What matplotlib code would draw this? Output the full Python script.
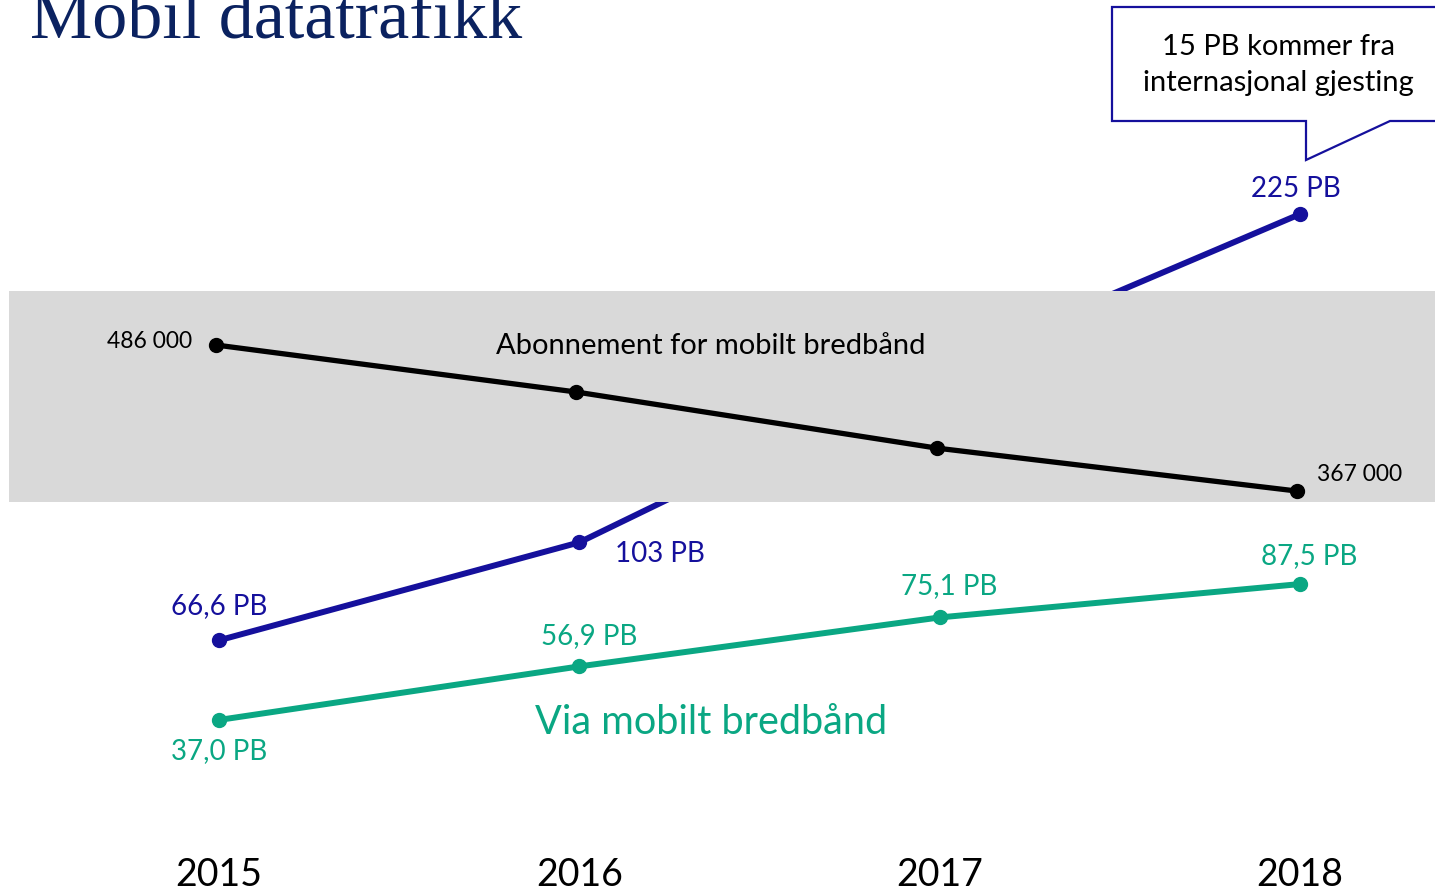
import matplotlib.pyplot as plt
import matplotlib.patches as patches

W, H = 1435, 894

years = [2015, 2016, 2017, 2018]
total_pb = [66.6, 103, 168, 225]          # 2017 value sits behind the grey band
mbb_pb = [37.0, 56.9, 75.1, 87.5]
subs_k = [486, 447.7, 402, 367]           # abonnement, thousands

total_labels = ['66,6 PB', '103 PB', None, '225 PB']
mbb_labels = ['37,0 PB', '56,9 PB', '75,1 PB', '87,5 PB']
subs_labels = ['486 000', None, None, '367 000']

BLUE = '#15109c'
GREEN = '#0aa783'
NAVY = '#0b2260'
FONT = 'Lato'


def fpx(x, y):
    # pixel position -> figure fraction
    return x / W, 1 - y / H


fig = plt.figure(figsize=(W / 100, H / 100), dpi=100)
ax = fig.add_axes([0, 0, 1, 1])
ax.set_xlim(2014.392, 2018.375)
ax.set_ylim(-27.7, 304.6)
ax.axis('off')

ax2 = ax.twinx()
ax2.set_position([0, 0, 1, 1])
ax2.set_ylim(38.6, 767.2)
ax2.axis('off')

# grey band behind subscriber line, covering the blue line
x0, y0 = fpx(9, 502)
x1, y1 = fpx(1435, 291)
ax2.add_patch(patches.Rectangle((x0, y0), x1 - x0, y1 - y0, transform=fig.transFigure,
                                facecolor='#d9d9d9', edgecolor='none', zorder=0))

ax.plot(years, total_pb, color=BLUE, lw=4.3, marker='o', ms=10, zorder=2)
ax.plot(years, mbb_pb, color=GREEN, lw=4.3, marker='o', ms=10, zorder=2)
ax2.plot([y - 0.008 for y in years], subs_k, color='black', lw=3.8, marker='o', ms=10, zorder=3)

blue_offsets = [(0, 34), (81, -12), None, (-4, 25)]
for yr, v, lab, off in zip(years, total_pb, total_labels, blue_offsets):
    if lab:
        ax.annotate(lab, (yr, v), xytext=off, textcoords='offset pixels', ha='center',
                    va='center', color=BLUE, fontsize=20, family=FONT)

green_offsets = [(0, -31), (10, 30), (10, 31), (9, 28)]
for yr, v, lab, off in zip(years, mbb_pb, mbb_labels, green_offsets):
    ax.annotate(lab, (yr, v), xytext=off, textcoords='offset pixels', ha='center',
                va='center', color=GREEN, fontsize=20, family=FONT)

ax2.annotate(subs_labels[0], (years[0] - 0.008, subs_k[0]), xytext=(-24, 4),
             textcoords='offset pixels', ha='right', va='center', fontsize=16.5, family=FONT, zorder=4)
ax2.annotate(subs_labels[3], (years[3] - 0.008, subs_k[3]), xytext=(20, 17),
             textcoords='offset pixels', ha='left', va='center', fontsize=16.5, family=FONT, zorder=4)

fig.text(*fpx(711, 346), 'Abonnement for mobilt bredbånd', ha='center', va='center',
         fontsize=21, family=FONT, zorder=5)
fig.text(*fpx(711, 722), 'Via mobilt bredbånd', ha='center', va='center',
         fontsize=28.5, family=FONT, color=GREEN)

for yr in years:
    ax.annotate(str(yr), (yr, 0), xytext=(0, -875 + 819.5), textcoords='offset pixels',
                ha='center', va='center', fontsize=27, family=FONT)

fig.text(*fpx(30, 37), 'Mobil datatrafikk', ha='left', va='baseline',
         fontsize=50.5, family='Liberation Serif', color=NAVY)

# callout box
pts = [fpx(*p) for p in [(1112, 7), (1440, 7), (1440, 121), (1390, 121),
                         (1306, 160), (1306, 121), (1112, 121)]]
fig.patches.append(patches.Polygon(pts, closed=True, transform=fig.transFigure,
                                   facecolor='white', edgecolor=BLUE, lw=1.6))
fig.text(*fpx(1278, 65), '15 PB kommer fra\ninternasjonal gjesting', ha='center',
         va='center', fontsize=21, family=FONT, linespacing=1.5)

fig.savefig('out.png', dpi=100)
